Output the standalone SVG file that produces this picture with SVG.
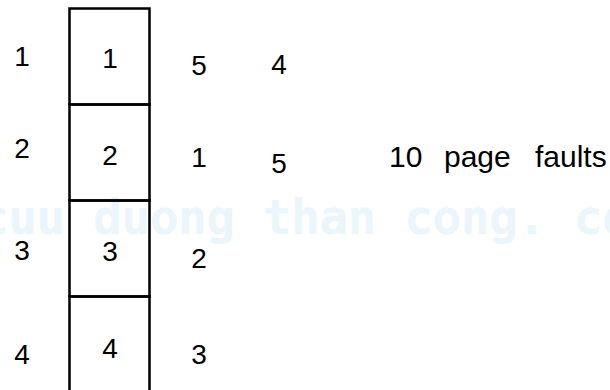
<svg xmlns="http://www.w3.org/2000/svg" width="610" height="390" viewBox="0 0 610 390">
  <style>
    .t { font-family: "Liberation Sans", Arial, sans-serif; font-size: 28px; fill: #000; text-anchor: middle; }
    .lbl { font-family: "Liberation Sans", Arial, sans-serif; font-size: 30px; fill: #000; }
    .cell { fill: none; stroke: #000; stroke-width: 2.5; }
    .wm { font-family: "DejaVu Sans Mono", "Liberation Mono", monospace; font-size: 48px; font-weight: bold; fill: #eaf5fc; }
  </style>
  <rect width="610" height="390" fill="#ffffff"/>
  <text class="wm" x="-20" y="234" textLength="651" lengthAdjust="spacing">cuu duong than cong. co</text>

  <g id="frames">
    <g id="frame1"><rect class="cell" x="69.5" y="8.5" width="80" height="96"/><text class="t" x="110" y="68">1</text></g>
    <g id="frame2"><rect class="cell" x="69.5" y="104.5" width="80" height="96"/><text class="t" x="110" y="165">2</text></g>
    <g id="frame3"><rect class="cell" x="69.5" y="200.5" width="80" height="96"/><text class="t" x="110" y="261">3</text></g>
    <g id="frame4"><rect class="cell" x="69.5" y="296.5" width="80" height="100"/><text class="t" x="110" y="358">4</text></g>
  </g>

  <g id="col-left">
    <text class="t" x="22" y="66">1</text>
    <text class="t" x="22" y="158">2</text>
    <text class="t" x="22" y="260">3</text>
    <text class="t" x="22" y="364">4</text>
  </g>
  <g id="col-3">
    <text class="t" x="199" y="75">5</text>
    <text class="t" x="199" y="167">1</text>
    <text class="t" x="199" y="268">2</text>
    <text class="t" x="199" y="364">3</text>
  </g>
  <g id="col-4">
    <text class="t" x="279" y="74">4</text>
    <text class="t" x="279" y="173">5</text>
  </g>
  <g id="result">
    <text class="lbl" y="167"><tspan x="389">10</tspan><tspan x="444">page</tspan><tspan x="535">faults</tspan></text>
  </g>
  <g id="connectors"/>
</svg>
